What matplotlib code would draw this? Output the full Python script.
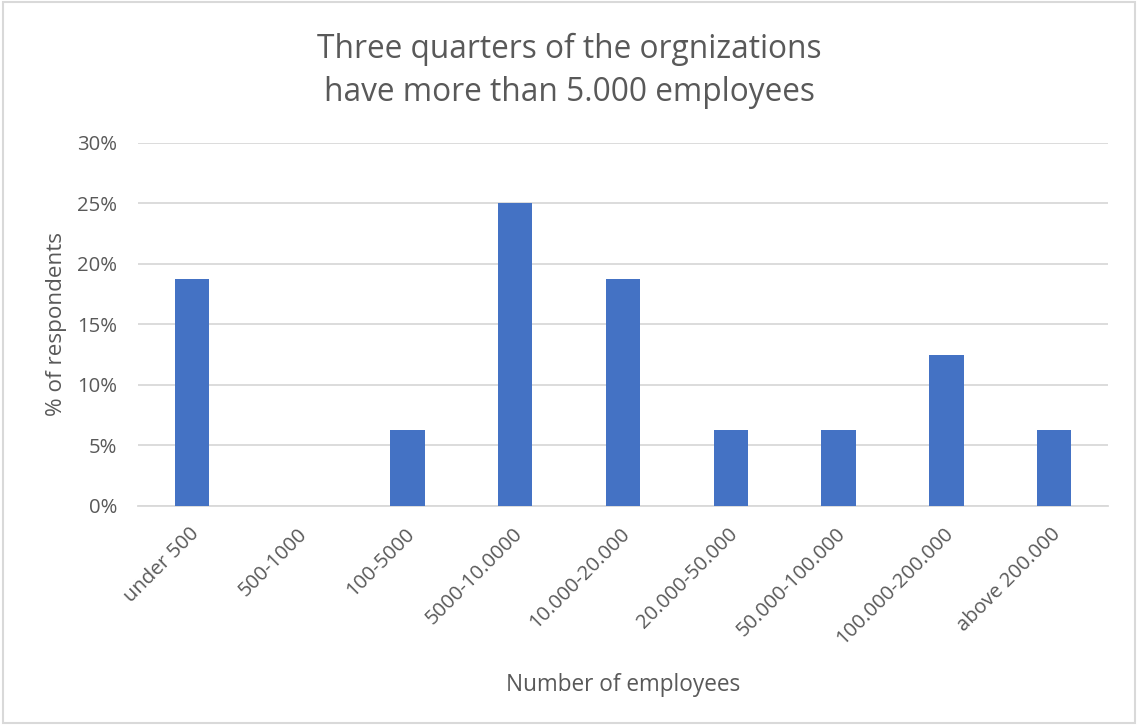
import matplotlib
matplotlib.use("Agg")
import matplotlib.pyplot as plt
from matplotlib.patches import Rectangle
from matplotlib.ticker import PercentFormatter, MultipleLocator
from matplotlib.transforms import ScaledTranslation

categories = ["under 500", "500-1000", "100-5000", "5000-10.0000", "10.000-20.000",
              "20.000-50.000", "50.000-100.000", "100.000-200.000", "above 200.000"]
shares = [0.1875, 0.0, 0.0625, 0.25, 0.1875, 0.0625, 0.0625, 0.125, 0.0625]

title = "Three quarters of the orgnizations\nhave more than 5.000 employees"
x_label = "Number of employees"
y_label = "% of respondents"

text_color = "#595959"
bar_color = "#4472C4"
grid_color = "#D9D9D9"

plt.rcParams["font.family"] = ["Open Sans", "DejaVu Sans"]

fig = plt.figure(figsize=(11.38, 7.25), dpi=100)
ax = fig.add_axes([0.1213, 0.3021, 0.8523, 0.5007])

x = range(len(categories))
ax.bar(x, shares, width=0.32, color=bar_color, zorder=3)

ax.set_xlim(-0.5, len(categories) - 0.5)
ax.set_ylim(0, 0.30)
ax.yaxis.set_major_locator(MultipleLocator(0.05))
ax.yaxis.set_major_formatter(PercentFormatter(1.0, decimals=0))
ax.grid(axis="y", color=grid_color, linewidth=1.3, zorder=0)
ax.set_axisbelow(True)

for side in ("top", "right", "left"):
    ax.spines[side].set_visible(False)
ax.spines["bottom"].set_color(grid_color)
ax.spines["bottom"].set_linewidth(1.3)
ax.tick_params(axis="both", length=0, colors=text_color, labelsize=14.6)
ax.tick_params(axis="y", pad=15)

ax.set_xticks(list(x))
ax.set_xticklabels(categories, rotation=45, ha="right", va="top",
                   rotation_mode="anchor")
ax.tick_params(axis="x", pad=13)
# nudge rotated category labels slightly left so they end under each bar
shift = ScaledTranslation(-3 / 100, 0, fig.dpi_scale_trans)
for lbl in ax.get_xticklabels():
    lbl.set_transform(lbl.get_transform() + shift)

ax.set_xlabel(x_label, color=text_color, fontsize=16.3, labelpad=17)
ax.set_ylabel(y_label, color=text_color, fontsize=16.2, labelpad=7)

fig.text(0.5, 0.902, title, ha="center", va="center", color=text_color,
         fontsize=22.8, linespacing=1.4)

fig.patches.append(Rectangle((0.003, 0.003), 0.994, 0.994, transform=fig.transFigure,
                             fill=False, edgecolor="#D9D9D9", linewidth=1.5))

fig.savefig("out.png", dpi=100, facecolor="white")
